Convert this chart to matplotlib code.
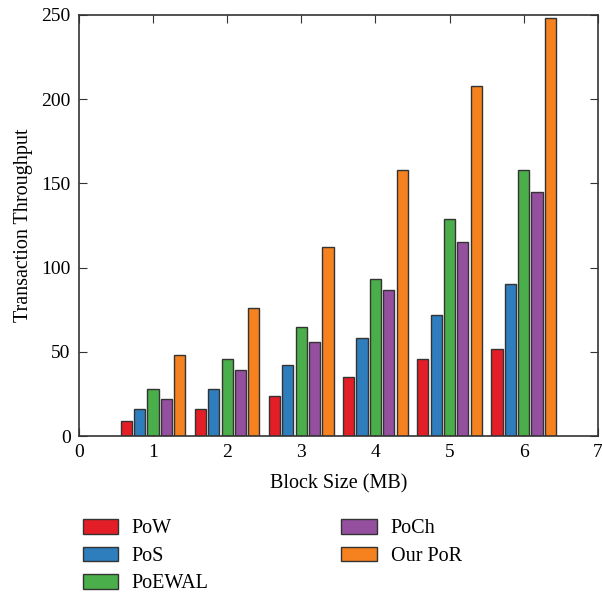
import numpy as np
import matplotlib.pyplot as plt

plt.rcParams['font.family'] = ['Liberation Serif', 'DejaVu Serif']

block_sizes = [1, 2, 3, 4, 5, 6]
labels = ['PoW', 'PoS', 'PoEWAL', 'PoCh', 'Our PoR']
pow_vals = [9, 16, 24, 35, 46, 52]
pos_vals = [16, 28, 42, 58, 72, 90]
poewal_vals = [28, 46, 65, 93, 129, 158]
poch_vals = [22, 39, 56, 87, 115, 145]
por_vals = [48, 76, 112, 158, 208, 248]
colors = ['#e41e26', '#2e7dbc', '#4aae4a', '#954f9f', '#f5821f']

series = [pow_vals, pos_vals, poewal_vals, poch_vals, por_vals]

fig = plt.figure(figsize=(6.02, 5.95), dpi=100)
ax = fig.add_axes([0.131, 0.267, 0.862, 0.708])

x = np.array(block_sizes)
width = 0.15
step = 0.18
for i, (vals, lab, col) in enumerate(zip(series, labels, colors)):
    ax.bar(x + (i - 2) * step, vals, width, color=col, edgecolor='#333333',
           linewidth=1.0, label=lab, zorder=2)

ax.set_xlim(0, 7)
ax.set_ylim(0, 250)
ax.set_xticks(range(0, 8))
ax.set_yticks(range(0, 251, 50))
ax.tick_params(direction='in', top=True, right=True, labelsize=14, length=6,
               color='#333333', pad=6)
for s in ax.spines.values():
    s.set_color('#333333')
    s.set_linewidth(1.2)
ax.set_xlabel('Block Size (MB)', fontsize=14.5, labelpad=9)
ax.set_ylabel('Transaction Throughput', fontsize=14.5, labelpad=6)

fig.legend(loc='upper left', bbox_to_anchor=(0.107, 0.158), ncol=2, frameon=False,
           fontsize=14.5, handlelength=1.74, handleheight=0.74, columnspacing=6.6,
           labelspacing=0.4, handletextpad=0.7)

fig.savefig('out.png', dpi=100)
